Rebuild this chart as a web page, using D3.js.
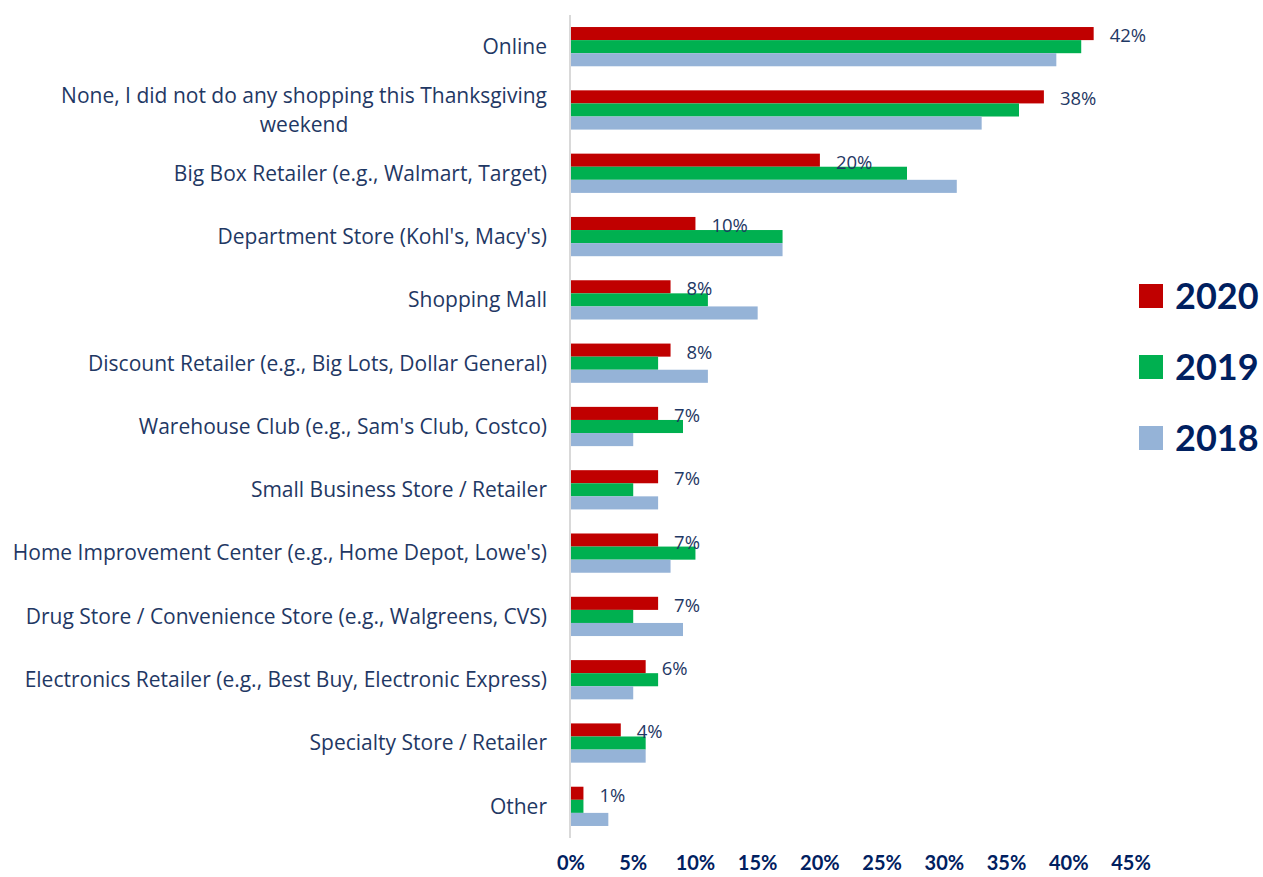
<!DOCTYPE html>
<html>
<head>
<meta charset="utf-8">
<script src="https://cdn.jsdelivr.net/npm/d3@7"></script>
<style>
  body { margin: 0; background: #fff; }
  svg { display: block; font-family: Lato, "Open Sans", sans-serif; }
</style>
</head>
<body>
<svg id="chart"></svg>
<script>
const categories = [
  "Online",
  "None, I did not do any shopping this Thanksgiving\nweekend",
  "Big Box Retailer (e.g., Walmart, Target)",
  "Department Store (Kohl's, Macy's)",
  "Shopping Mall",
  "Discount Retailer (e.g., Big Lots, Dollar General)",
  "Warehouse Club (e.g., Sam's Club, Costco)",
  "Small Business Store / Retailer",
  "Home Improvement Center (e.g., Home Depot, Lowe's)",
  "Drug Store / Convenience Store (e.g., Walgreens, CVS)",
  "Electronics Retailer (e.g., Best Buy, Electronic Express)",
  "Specialty Store / Retailer",
  "Other"
];
const years = ["2020", "2019", "2018"];
const values2020 = [42, 38, 20, 10, 8, 8, 7, 7, 7, 7, 6, 4, 1];
const values2019 = [41, 36, 27, 17, 11, 7, 9, 5, 10, 5, 7, 6, 1];
const values2018 = [39, 33, 31, 17, 15, 11, 5, 7, 8, 9, 5, 6, 3];
const xTicks = [0, 5, 10, 15, 20, 25, 30, 35, 40, 45];

const colors = {"2020": "#C00000", "2019": "#00B050", "2018": "#95B3D7"};
const series = {"2020": values2020, "2019": values2019, "2018": values2018};

const width = 1263, height = 877;
const svg = d3.select("#chart").attr("width", width).attr("height", height);

const x = d3.scaleLinear().domain([0, 45]).range([571, 1131]);
const y = d3.scaleBand().domain(categories).range([15, 838]).paddingInner(0.38).paddingOuter(0.19);
const yInner = d3.scaleBand().domain(years).range([0, y.bandwidth()]);

// bars
const groups = svg.append("g").selectAll("g")
  .data(categories)
  .enter().append("g")
  .attr("transform", d => `translate(0,${y(d)})`);

groups.selectAll("rect")
  .data((d, i) => years.map(yr => ({year: yr, value: series[yr][i]})))
  .enter().append("rect")
  .attr("x", x(0))
  .attr("y", d => yInner(d.year))
  .attr("width", d => x(d.value) - x(0))
  .attr("height", yInner.bandwidth())
  .attr("fill", d => colors[d.year]);

// axis line
svg.append("line")
  .attr("x1", x(0) - 1).attr("x2", x(0) - 1)
  .attr("y1", 15).attr("y2", 838)
  .attr("stroke", "#D9D9D9").attr("stroke-width", 2);

// data labels (2020)
svg.append("g").selectAll("text")
  .data(categories)
  .enter().append("text")
  .attr("x", (d, i) => x(values2020[i]) + 16)
  .attr("y", d => y(d) + yInner("2020") + yInner.bandwidth() / 2 + 2)
  .attr("dy", "0.35em")
  .attr("fill", "#1F3864")
  .attr("font-family", "'Open Sans', sans-serif")
  .attr("font-size", 18.5)
  .text((d, i) => values2020[i] + "%");

// category labels
const labelRight = 547;
const catG = svg.append("g");
categories.forEach(c => {
  const lines = c.split("\n");
  const t = catG.append("text")
    .attr("fill", "#1F3864")
    .attr("font-family", "'Open Sans', sans-serif")
    .attr("font-size", 21);
  const cy = y(c) + y.bandwidth() / 2;
  const lh = 29;
  lines.forEach((ln, i) => {
    t.append("tspan")
      .attr("y", cy + (i - (lines.length - 1) / 2) * lh)
      .attr("dy", "0.35em")
      .text(ln);
  });
  if (lines.length === 1) {
    t.attr("text-anchor", "end").selectAll("tspan").attr("x", labelRight);
  } else {
    let maxW = 0;
    t.selectAll("tspan").each(function() { maxW = Math.max(maxW, this.getComputedTextLength()); });
    t.attr("text-anchor", "middle").selectAll("tspan").attr("x", labelRight - maxW / 2);
  }
});

// x tick labels
svg.append("g").selectAll("text")
  .data(xTicks)
  .enter().append("text")
  .attr("x", d => x(d))
  .attr("y", 870)
  .attr("text-anchor", "middle")
  .attr("fill", "#002060")
  .attr("font-size", 20)
  .attr("font-weight", "bold")
  .text(d => d + "%");

// legend
const legend = svg.append("g").selectAll("g")
  .data(years)
  .enter().append("g")
  .attr("transform", (d, i) => `translate(1139,${284 + i * 71})`);
legend.append("rect")
  .attr("width", 24).attr("height", 24)
  .attr("fill", d => colors[d]);
legend.append("text")
  .attr("x", 36).attr("y", 25)
  .attr("fill", "#002060")
  .attr("font-size", 36)
  .attr("font-weight", "bold")
  .text(d => d);
</script>
</body>
</html>
